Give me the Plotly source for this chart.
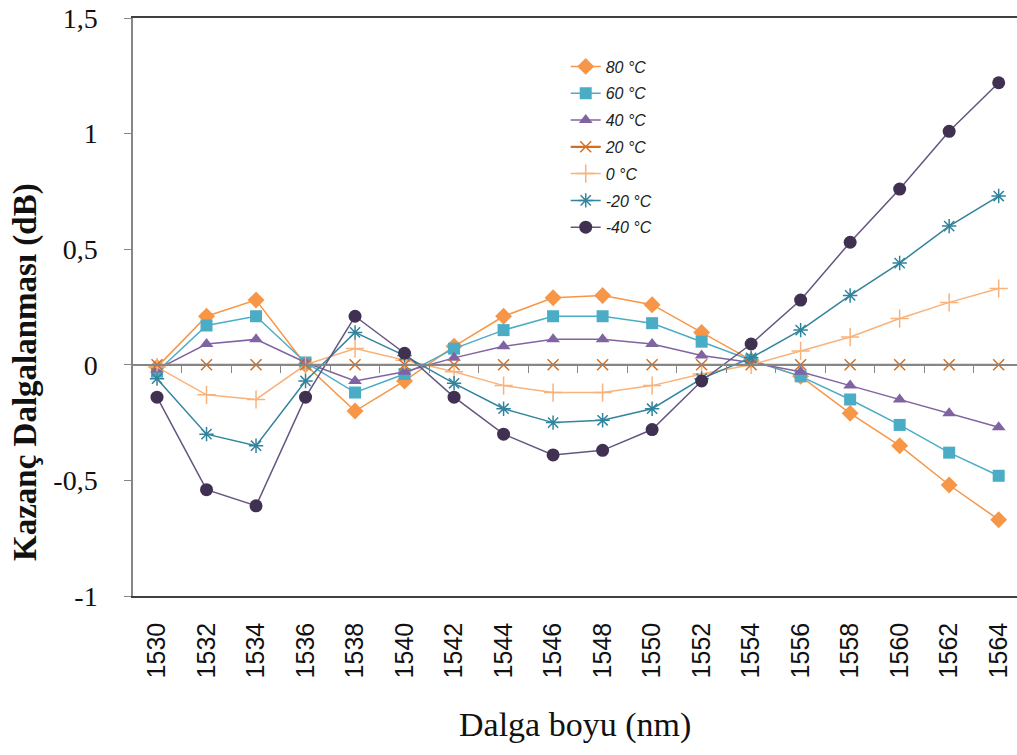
import plotly.graph_objects as go

wavelengths = [1530, 1532, 1534, 1536, 1538, 1540, 1542, 1544, 1546, 1548,
               1550, 1552, 1554, 1556, 1558, 1560, 1562, 1564]

t80 = [-0.01, 0.21, 0.28, 0.00, -0.20, -0.07, 0.08, 0.21, 0.29, 0.30,
       0.26, 0.14, 0.02, -0.05, -0.21, -0.35, -0.52, -0.67]
t60 = [-0.03, 0.17, 0.21, 0.01, -0.12, -0.04, 0.07, 0.15, 0.21, 0.21,
       0.18, 0.10, 0.02, -0.05, -0.15, -0.26, -0.38, -0.48]
t40 = [-0.02, 0.09, 0.11, 0.01, -0.07, -0.03, 0.03, 0.08, 0.11, 0.11,
       0.09, 0.04, 0.01, -0.03, -0.09, -0.15, -0.21, -0.27]
t20 = [0.0] * 18
t0 = [-0.01, -0.13, -0.15, 0.00, 0.07, 0.02, -0.03, -0.09, -0.12, -0.12,
      -0.09, -0.04, 0.00, 0.06, 0.12, 0.20, 0.27, 0.33]
tm20 = [-0.06, -0.30, -0.35, -0.07, 0.14, 0.04, -0.08, -0.19, -0.25, -0.24,
        -0.19, -0.06, 0.03, 0.15, 0.30, 0.44, 0.60, 0.73]
tm40 = [-0.14, -0.54, -0.61, -0.14, 0.21, 0.05, -0.14, -0.30, -0.39, -0.37,
        -0.28, -0.07, 0.09, 0.28, 0.53, 0.76, 1.01, 1.22]

names = ["80 °C", "60 °C", "40 °C", "20 °C", "0 °C", "-20 °C", "-40 °C"]
series = [t80, t60, t40, t20, t0, tm20, tm40]

y_tickvals = [-1, -0.5, 0, 0.5, 1, 1.5]
y_ticktext = ["-1", "-0,5", "0", "0,5", "1", "1,5"]
boundaries = [1531 + 2 * i for i in range(17)]

styles = [
    dict(line=dict(color="#F79646", width=1.5),
         marker=dict(symbol="diamond", size=13, color="#F79646")),
    dict(line=dict(color="#4BACC6", width=1.5),
         marker=dict(symbol="square", size=12, color="#4BACC6")),
    dict(line=dict(color="#8064A2", width=1.5),
         marker=dict(symbol="triangle-up", size=12, color="#8064A2")),
    dict(line=dict(color="#D46F22", width=2.2),
         marker=dict(symbol="x-thin-open", size=11,
                     line=dict(color="#E8904A", width=1.5))),
    dict(line=dict(color="#F9B27A", width=1.5),
         marker=dict(symbol="cross-thin-open", size=13,
                     line=dict(color="#F9A868", width=1.5))),
    dict(line=dict(color="#31849B", width=1.5),
         marker=dict(symbol="asterisk-open", size=12,
                     line=dict(color="#2A7588", width=1.5))),
    dict(line=dict(color="#65557F", width=1.5),
         marker=dict(symbol="circle", size=13, color="#403152")),
]

fig = go.Figure()
for name, vals, st in zip(names, series, styles):
    fig.add_trace(go.Scatter(x=wavelengths, y=vals, name=name, mode="lines+markers",
                             legendgroup=name, line=st["line"], marker=st["marker"]))

xr = [1529.03, 1564.74]

fig.update_layout(
    width=1017, height=755,
    paper_bgcolor="white", plot_bgcolor="white",
    margin=dict(l=133, r=0, t=18, b=159),
    showlegend=True,
    legend=dict(x=0.4895, y=0.9455, xanchor="left", yanchor="top",
                bgcolor="rgba(0,0,0,0)", borderwidth=0,
                font=dict(family="Liberation Sans", size=16, color="#222", style="italic"),
                tracegroupgap=3),
    xaxis=dict(range=xr, tickvals=wavelengths, ticktext=[str(w) for w in wavelengths],
               tickangle=-90, ticks="outside", ticklen=15, tickcolor="rgba(0,0,0,0)",
               showline=True, linecolor="#404040", linewidth=1.5, mirror=True,
               showgrid=False, zeroline=False,
               tickfont=dict(family="Liberation Sans", size=25, color="#111")),
    xaxis2=dict(range=xr, overlaying="x", anchor="free", position=0.4, side="bottom",
                tickvals=boundaries, ticks="outside", ticklen=7, tickcolor="#868686",
                showticklabels=False, showline=True, linecolor="#868686", linewidth=1.5,
                showgrid=False, zeroline=False),
    yaxis=dict(range=[-1, 1.5], tickvals=y_tickvals, ticktext=y_ticktext,
               ticks="outside", ticklen=7, tickcolor="#868686", ticklabelstandoff=21,
               showline=True, linecolor="#868686", linewidth=1.5,
               showgrid=False, zeroline=False,
               tickfont=dict(family="Liberation Serif", size=28, color="#111")),
    annotations=[
        dict(text="Dalga boyu (nm)", xref="paper", yref="paper", x=0.5, y=-0.2232,
             xanchor="center", yanchor="middle", showarrow=False,
             font=dict(family="Liberation Serif", size=34, color="#111")),
        dict(text="<b>Kazanç Dalgalanması (dB)</b>", xref="paper", yref="paper",
             x=-0.1222, y=0.3875, xanchor="center", yanchor="middle", textangle=-90,
             showarrow=False,
             font=dict(family="Liberation Serif", size=33, color="#111")),
    ],
)
# the 20 °C series lies on the zero axis; draw it on the overlay axis
fig.data[3].update(xaxis="x2")

fig.write_html("out.html",
               config={"displayModeBar": False},
               post_script="document.body.style.margin='0';document.body.style.overflow='hidden';")
